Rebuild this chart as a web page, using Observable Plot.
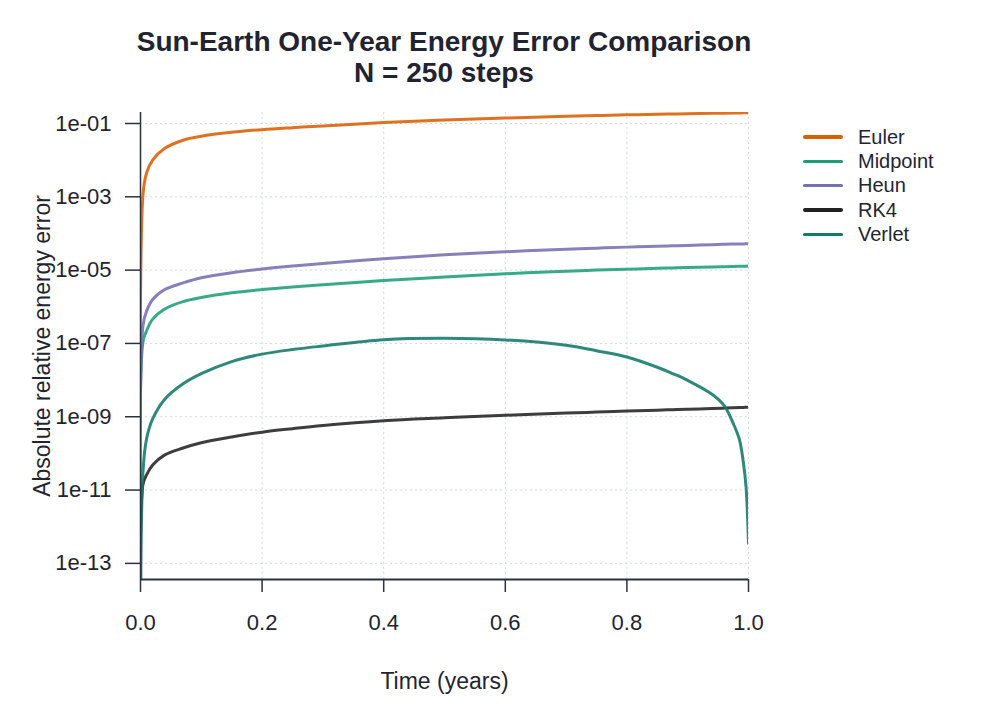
<!DOCTYPE html>
<html>
<head>
<meta charset="utf-8">
<script src="https://cdn.jsdelivr.net/npm/d3@7"></script>
<script src="https://cdn.jsdelivr.net/npm/@observablehq/plot@0.6"></script>
<style>
  html, body { margin: 0; padding: 0; background: #ffffff; }
  body { width: 1000px; height: 720px; position: relative; overflow: hidden; font-family: "Liberation Sans", Arial, sans-serif; color: #1f2430; }
  #title { position: absolute; left: 0; top: 26px; width: 888px; text-align: center; font-weight: bold; font-size: 28px; line-height: 31px; color: #1f2430; }
  #chart { position: absolute; left: 0; top: 100px; }
  #legend { position: absolute; left: 803px; top: 125px; font-size: 20px; color: #1f2430; }
  .row { height: 24.3px; display: flex; align-items: center; }
  .sw { width: 40px; height: 3.5px; margin-right: 15px; border-radius: 2px; }
</style>
</head>
<body>
<div id="title">Sun-Earth One-Year Energy Error Comparison<br>N = 250 steps</div>
<div id="chart"></div>
<div id="legend"></div>
<script>
// ---- data (t = 0 value is the plotting floor for a zero error) ----
const times    = [0, 0.004, 0.01, 0.02, 0.04, 0.07, 0.1, 0.15, 0.2, 0.25, 0.3, 0.4, 0.5, 0.6, 0.7, 0.75, 0.8, 0.85, 0.875, 0.9, 0.94, 0.96, 0.975, 0.985, 0.992, 0.996, 1.0];
const euler    = [1e-16, 1.1e-3, 4.5e-3, 1.0e-2, 2.1e-2, 3.5e-2, 4.5e-2, 5.75e-2, 6.8e-2, 7.7e-2, 8.6e-2, 0.106, 0.124, 0.141, 0.157, 0.165, 0.172, 0.179, 0.182, 0.185, 0.189, 0.191, 0.193, 0.194, 0.195, 0.196, 0.196];
const midpoint = [1e-16, 1.1e-7, 2.2e-7, 4.6e-7, 8.7e-7, 1.38e-6, 1.78e-6, 2.40e-6, 2.95e-6, 3.47e-6, 3.98e-6, 5.19e-6, 6.46e-6, 7.94e-6, 9.33e-6, 1.0e-5, 1.06e-5, 1.12e-5, 1.15e-5, 1.17e-5, 1.22e-5, 1.245e-5, 1.26e-5, 1.27e-5, 1.275e-5, 1.28e-5, 1.29e-5];
const heun     = [1e-16, 3.0e-7, 7.6e-7, 1.58e-6, 2.95e-6, 4.47e-6, 6.17e-6, 8.51e-6, 1.07e-5, 1.29e-5, 1.51e-5, 2.04e-5, 2.63e-5, 3.16e-5, 3.72e-5, 3.98e-5, 4.24e-5, 4.47e-5, 4.6e-5, 4.73e-5, 4.95e-5, 5.05e-5, 5.13e-5, 5.16e-5, 5.2e-5, 5.22e-5, 5.25e-5];
const rk4      = [1e-16, 1.4e-11, 2.6e-11, 4.8e-11, 9.1e-11, 1.4e-10, 1.95e-10, 2.8e-10, 3.8e-10, 4.73e-10, 5.75e-10, 7.76e-10, 9.33e-10, 1.10e-9, 1.26e-9, 1.34e-9, 1.43e-9, 1.51e-9, 1.56e-9, 1.60e-9, 1.68e-9, 1.72e-9, 1.75e-9, 1.78e-9, 1.80e-9, 1.82e-9, 1.83e-9];
const verlet   = [1e-16, 3.0e-11, 2.5e-10, 8.7e-10, 3.0e-9, 7.9e-9, 1.5e-8, 3.2e-8, 5.1e-8, 6.8e-8, 8.5e-8, 1.27e-7, 1.39e-7, 1.25e-7, 8.9e-8, 6.3e-8, 4.27e-8, 2.24e-8, 1.51e-8, 9.8e-9, 4.1e-9, 2.0e-9, 6.5e-10, 2.4e-10, 5.0e-11, 1.2e-11, 3.5e-13];

const seriesNames  = ["Euler", "Midpoint", "Heun", "RK4", "Verlet"];
const seriesValues = [euler, midpoint, heun, rk4, verlet];
const seriesColors = ["#d95f02", "#1b9e77", "#7570b3", "#222222", "#12786a"];

const xTicks = [0, 0.2, 0.4, 0.6, 0.8, 1.0];
const yTicks = [1e-1, 1e-3, 1e-5, 1e-7, 1e-9, 1e-11, 1e-13];
const yDomain = [Math.pow(10, -13.44), Math.pow(10, -0.7)];

// ---- build long table ----
const rows = [];
seriesNames.forEach((name, i) => {
  times.forEach((t, j) => rows.push({series: name, t, v: seriesValues[i][j]}));
});

const fmtY = v => {
  const e = Math.round(Math.log10(v));
  return "1e" + (e < 0 ? "-" : "+") + String(Math.abs(e)).padStart(2, "0");
};

const gridColor = "#d4d9e2";
const axisColor = "#2a3140";

const plot = Plot.plot({
  width: 1000,
  height: 620,
  marginLeft: 140,
  marginRight: 252,
  marginTop: 12,
  marginBottom: 141,
  style: {fontFamily: "'Liberation Sans', Arial, sans-serif", color: "#1f2430", background: "transparent"},
  x: {domain: [0, 1]},
  y: {type: "log", domain: yDomain},
  color: {domain: seriesNames, range: seriesColors},
  marks: [
    Plot.ruleY(yTicks, {x1: 0, x2: 1, y: d => d, stroke: gridColor, strokeWidth: 1, strokeDasharray: "2,3"}),
    Plot.ruleX(xTicks.slice(1), {x: d => d, stroke: gridColor, strokeWidth: 1, strokeDasharray: "2,3"}),
    ...seriesNames.map(name =>
      Plot.line(rows.filter(r => r.series === name), {
        x: "t", y: "v", stroke: "series", strokeWidth: 3, strokeOpacity: 0.88,
        curve: "catmull-rom", clip: true
      })
    ),
    Plot.axisX({ticks: xTicks, tickFormat: d3.format(".1f"), tickSize: 13, tickPadding: 22, fontSize: 22,
      stroke: axisColor, strokeWidth: 1.5, label: null}),
    Plot.axisX({ticks: [], label: "Time (years)", labelAnchor: "center", labelArrow: "none", labelOffset: 109, fontSize: 23}),
    Plot.axisY({ticks: yTicks, tickFormat: fmtY, tickSize: 15, tickPadding: 14, fontSize: 22,
      stroke: axisColor, strokeWidth: 1.5, label: null}),
    Plot.axisY({ticks: [], label: "Absolute relative energy error", labelAnchor: "center", labelArrow: "none", labelOffset: 107, fontSize: 23}),
    Plot.ruleY([yDomain[0]], {x1: 0, x2: 1, stroke: axisColor, strokeWidth: 2}),
    Plot.ruleX([0], {y1: yDomain[0], y2: yDomain[1], stroke: axisColor, strokeWidth: 1.5}),
  ]
});
document.getElementById("chart").appendChild(plot);

// ---- legend ----
const legend = document.getElementById("legend");
seriesNames.forEach((name, i) => {
  const row = document.createElement("div");
  row.className = "row";
  const sw = document.createElement("div");
  sw.className = "sw";
  sw.style.background = seriesColors[i];
  const lab = document.createElement("span");
  lab.textContent = name;
  row.appendChild(sw);
  row.appendChild(lab);
  legend.appendChild(row);
});
</script>
</body>
</html>
